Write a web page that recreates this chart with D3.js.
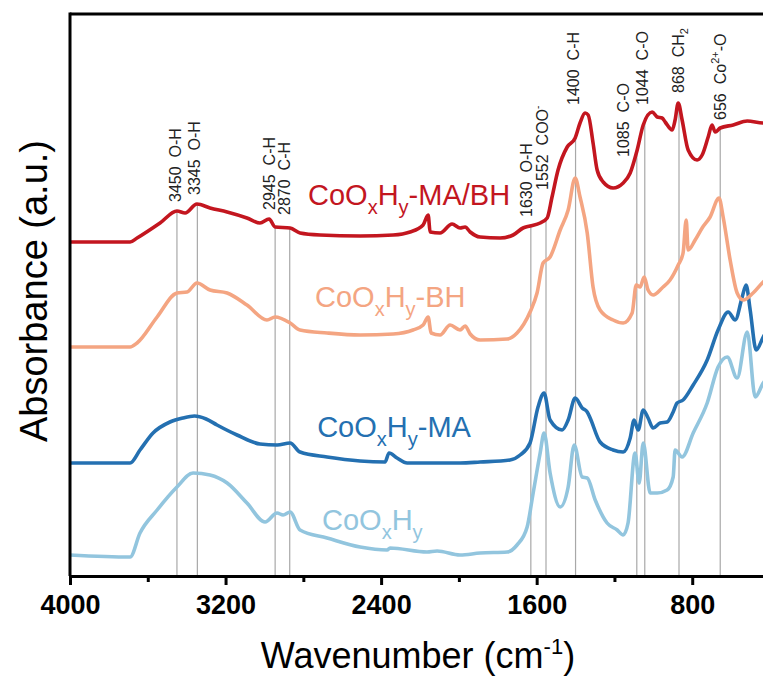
<!DOCTYPE html>
<meta charset="utf-8">
<script src="https://cdn.jsdelivr.net/npm/d3@7"></script>
<style>
  body { margin: 0; background: #fff; }
  svg text { font-family: "Liberation Sans", Arial, sans-serif; }
</style>
<div id="my_dataviz"></div>
<script>

// spectra: [wavenumber (cm-1), absorbance (a.u., offset stacked)]
var maBh = [[4000,334],[3691,334],[3655,338],[3537,353],[3450,365],[3408,363],[3347,372],[3280,368],[3192,364],[3090,358],[3023,353],[2976,357],[2945,349],[2868,348],[2817,343],[2714,341],[2508,340],[2338,341],[2251,344],[2184,351],[2158,361],[2148,344],[2097,343],[2035,352],[1994,348],[1968,349],[1942,344],[1891,339],[1788,338],[1721,341],[1670,348],[1634,350],[1582,353],[1546,358],[1521,379],[1490,406],[1443,429],[1402,438],[1377,453],[1351,463],[1335,461],[1310,433],[1289,406],[1258,394],[1207,388],[1155,393],[1119,403],[1083,426],[1052,451],[1006,464],[980,459],[955,458],[939,454],[903,446],[888,456],[872,473],[852,456],[821,426],[775,416],[749,421],[718,439],[698,451],[682,444],[656,448],[589,451],[517,455],[435,453],[400,453]];

var bh = [[4000,229],[3691,229],[3655,233],[3552,259],[3450,283],[3398,284],[3347,293],[3280,286],[3192,283],[3090,271],[2987,256],[2945,259],[2868,253],[2817,246],[2678,243],[2508,241],[2338,242],[2236,246],[2184,251],[2158,259],[2143,243],[2097,241],[2045,251],[1994,246],[1968,250],[1942,242],[1891,236],[1752,237],[1701,243],[1634,264],[1598,283],[1567,313],[1531,319],[1479,346],[1438,366],[1402,398],[1377,379],[1340,343],[1310,289],[1274,266],[1207,256],[1155,253],[1109,263],[1088,291],[1068,289],[1047,299],[1027,286],[1001,281],[955,288],[914,296],[872,311],[847,323],[831,356],[821,326],[785,336],[749,348],[708,359],[662,378],[641,359],[605,316],[569,283],[538,276],[487,283],[435,294],[400,300]];

var ma = [[4000,113],[3691,113],[3640,126],[3573,143],[3486,154],[3420,158],[3360,160],[3300,157],[3244,151],[3141,141],[3023,132],[2935,131],[2868,133],[2817,124],[2678,119],[2508,115],[2380,114],[2359,123],[2318,118],[2266,113],[1994,113],[1891,114],[1737,116],[1685,121],[1634,133],[1593,169],[1562,183],[1531,156],[1469,146],[1438,156],[1402,178],[1366,168],[1340,164],[1325,158],[1274,134],[1207,126],[1155,124],[1119,138],[1099,156],[1078,146],[1052,166],[1027,158],[1001,148],[965,153],[929,154],[898,164],[878,173],[847,176],[795,191],[723,216],[667,246],[615,264],[579,256],[543,279],[523,291],[502,266],[471,226],[435,239],[400,251]];

var bare = [[4000,21],[3691,19],[3640,43],[3552,66],[3450,89],[3367,103],[3280,101],[3192,93],[3090,73],[2997,54],[2935,63],[2904,61],[2868,64],[2817,46],[2678,38],[2508,29],[2369,26],[2354,28],[2164,24],[2112,25],[1994,21],[1891,23],[1752,24],[1701,31],[1649,49],[1618,83],[1582,123],[1562,143],[1531,103],[1479,69],[1438,89],[1407,131],[1366,99],[1340,98],[1299,76],[1238,53],[1186,46],[1155,41],[1130,53],[1094,123],[1073,93],[1052,133],[1016,83],[980,83],[929,86],[898,99],[888,126],[852,119],[795,143],[723,173],[667,209],[620,219],[569,198],[517,244],[476,179],[435,193],[400,201]];

var seriesSuffix = ["", "-MA", "-BH", "-MA/BH"];
var seriesData = [bare, ma, bh, maBh];
var seriesColors = ["#92c5de", "#2470b1", "#f4a582", "#c3161f"];

// peak assignments: wavenumber, group
var peakWn = [3450, 3345, 2945, 2870, 1630, 1552, 1400, 1085, 1044, 868, 656];
var peakGroup = ["O-H", "O-H", "C-H", "C-H", "O-H", "COO-", "C-H", "C-O", "C-O", "CH2", "Co2+-O"];

var xTicks = [4000, 3200, 2400, 1600, 800];
var xMinor = [3600, 2800, 2000, 1200];

// layout (kept apart from the data)
var width = 763, height = 686;
var plot = {left: 70, right: 770, top: 14, bottom: 576};
var labelPos = [[2704, 46], [2729, 139], [2740, 269], [2776, 371]];
var peakLabelBottom = [374, 381, 366, 361, 359, 386, 471, 419, 471, 483, 456];
var peakLabelDx = [4, 3, 0, 0, 1, 2, 3, -8, 3, 5, 6];

var svg = d3.select("#my_dataviz")
  .append("svg")
    .attr("width", width)
    .attr("height", height);

var x = d3.scaleLinear().domain([4000, 400]).range([plot.left, plot.right]);
var y = d3.scaleLinear().domain([0, 562]).range([plot.bottom, plot.top]);

// value of the top spectrum at a wavenumber, used for the top of the guide lines
function topAt(w) {
  var i = d3.bisector(function(d) { return -d[0]; }).left(maBh, -w);
  if (i <= 0) return maBh[0][1];
  var a = maBh[i - 1], b = maBh[i];
  var t = (w - a[0]) / (b[0] - a[0]);
  return a[1] + t * (b[1] - a[1]);
}

// grey guide lines
svg.selectAll("line.guide")
  .data(peakWn)
  .enter()
  .append("line")
    .attr("class", "guide")
    .attr("x1", function(d) { return x(d); })
    .attr("x2", function(d) { return x(d); })
    .attr("y1", function(d) { return y(topAt(d)); })
    .attr("y2", plot.bottom)
    .attr("stroke", "#a8a8a8")
    .attr("stroke-width", 1.2);

// spectra
var line = d3.line()
  .x(function(d) { return x(d[0]); })
  .y(function(d) { return y(d[1]); })
  .curve(d3.curveMonotoneX);

svg.selectAll("path.spec")
  .data(seriesData)
  .enter()
  .append("path")
    .attr("class", "spec")
    .attr("d", line)
    .attr("fill", "none")
    .attr("stroke", function(d, i) { return seriesColors[i]; })
    .attr("stroke-width", 3.6)
    .attr("stroke-linejoin", "round");

// series labels CoOxHy...
seriesSuffix.forEach(function(suffix, i) {
  var t = svg.append("text")
    .attr("x", x(labelPos[i][0]))
    .attr("y", y(labelPos[i][1]))
    .attr("fill", seriesColors[i])
    .style("font-size", "29px");
  t.append("tspan").text("CoO");
  t.append("tspan").attr("dy", 9).style("font-size", "20px").text("x");
  t.append("tspan").attr("dy", -9).text("H");
  t.append("tspan").attr("dy", 9).style("font-size", "20px").text("y");
  t.append("tspan").attr("dy", -9).text(suffix);
});

// peak labels (rotated)
peakWn.forEach(function(w, i) {
  var t = svg.append("text")
    .attr("transform", "translate(" + (x(w) + peakLabelDx[i]) + "," + y(peakLabelBottom[i]) + ") rotate(-90)")
    .attr("fill", "#222")
    .style("font-size", "16px");
  t.append("tspan").text(w);
  var g = peakGroup[i];
  if (g == "COO-") {
    t.append("tspan").attr("dx", 9).text("COO");
    t.append("tspan").attr("dy", -7).style("font-size", "10px").text("-");
  } else if (g == "CH2") {
    t.append("tspan").attr("dx", 9).text("CH");
    t.append("tspan").attr("dy", 4).style("font-size", "11px").text("2");
  } else if (g == "Co2+-O") {
    t.append("tspan").attr("dx", 9).text("Co");
    t.append("tspan").attr("dy", -7).style("font-size", "11px").text("2+");
    t.append("tspan").attr("dy", 7).text("-O");
  } else {
    t.append("tspan").attr("dx", 9).text(g);
  }
});

// frame: left, top
svg.append("line")
  .attr("x1", plot.left).attr("x2", plot.left)
  .attr("y1", plot.top - 1.5).attr("y2", plot.bottom)
  .attr("stroke", "#000").attr("stroke-width", 3);
svg.append("line")
  .attr("x1", plot.left).attr("x2", width)
  .attr("y1", plot.top).attr("y2", plot.top)
  .attr("stroke", "#000").attr("stroke-width", 3);

// X axis
var xAxis = svg.append("g")
  .attr("transform", "translate(0," + plot.bottom + ")")
  .call(d3.axisBottom(x).tickValues(xTicks).tickFormat(d3.format("d"))
    .tickSize(9).tickSizeOuter(0).tickPadding(10));
xAxis.select(".domain").attr("stroke-width", 3);
xAxis.selectAll(".tick line").attr("stroke-width", 3);
xAxis.selectAll(".tick text")
  .style("font-size", "27px")
  .style("font-weight", "bold")
  .attr("fill", "#000");

var xAxisMinor = svg.append("g")
  .attr("transform", "translate(0," + plot.bottom + ")")
  .call(d3.axisBottom(x).tickValues(xMinor).tickSize(6).tickSizeOuter(0).tickFormat(""));
xAxisMinor.select(".domain").remove();
xAxisMinor.selectAll(".tick line").attr("stroke-width", 3);

// axis titles
var xt = svg.append("text")
  .attr("x", 418)
  .attr("y", 668)
  .attr("text-anchor", "middle")
  .style("font-size", "36px");
xt.append("tspan").text("Wavenumber (cm");
xt.append("tspan").attr("dy", -14).style("font-size", "22px").text("-1");
xt.append("tspan").attr("dy", 14).text(")");

svg.append("text")
  .attr("transform", "translate(47,291) rotate(-90)")
  .attr("text-anchor", "middle")
  .style("font-size", "38px")
  .text("Absorbance (a.u.)");

</script>
